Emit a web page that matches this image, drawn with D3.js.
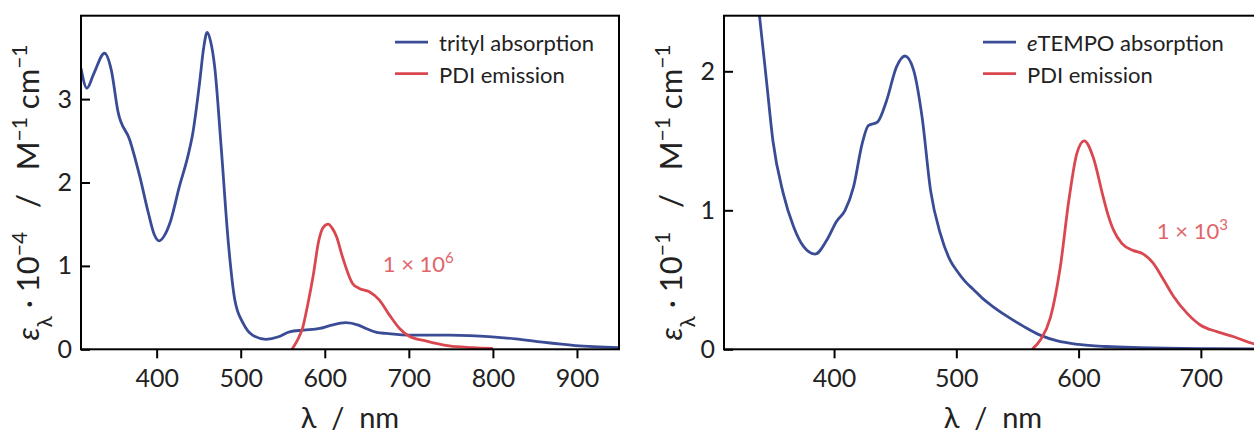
<!DOCTYPE html>
<html>
<head>
<meta charset="utf-8">
<script src="https://cdn.jsdelivr.net/npm/d3@7"></script>
<style>
  body { margin: 0; background: #fff; }
  svg { font-family: Lato, "DejaVu Sans", sans-serif; }
</style>
</head>
<body>
<div id="chart"></div>
<script>
// trityl absorption (left panel), eps / 1e4
var trityWl  = [310, 317, 325, 338, 346, 354, 368, 380, 390, 397, 403, 409, 416, 427, 437, 443, 451, 456, 460, 464, 469, 477, 485, 493, 503, 514, 530, 545, 558, 575, 594, 605, 625, 640, 649, 663, 673, 700, 748, 799, 827, 859, 898, 950];
var trityAbs = [3.37, 3.13, 3.30, 3.55, 3.35, 2.85, 2.51, 2.07, 1.64, 1.38, 1.30, 1.36, 1.52, 1.95, 2.31, 2.59, 3.19, 3.62, 3.80, 3.70, 3.39, 2.39, 1.31, 0.59, 0.31, 0.17, 0.12, 0.15, 0.21, 0.23, 0.25, 0.28, 0.32, 0.29, 0.25, 0.20, 0.19, 0.17, 0.17, 0.15, 0.125, 0.085, 0.045, 0.02];
// PDI emission, scaled by 1e6 (left panel)
var pdiWlA = [561, 567, 574, 580, 586, 593, 598, 604, 609, 614, 621, 633, 641, 653, 665, 677, 689, 700, 720, 748, 776, 800];
var pdiEmA = [0, 0.10, 0.27, 0.55, 0.87, 1.31, 1.46, 1.50, 1.45, 1.35, 1.11, 0.79, 0.73, 0.69, 0.59, 0.41, 0.25, 0.16, 0.10, 0.04, 0.02, 0.01];
// eTEMPO absorption (right panel), eps / 1e1
var tempoWl  = [335, 339, 345, 350, 358.5, 367, 375, 384.5, 394, 402, 409, 416, 423, 428, 435.5, 443, 451, 458, 465, 472, 479, 487, 495, 500, 507, 514, 521, 528, 541, 555, 569, 582, 600, 623, 650, 700, 750];
var tempoAbs = [2.7, 2.4, 1.91, 1.50, 1.12, 0.88, 0.74, 0.685, 0.785, 0.92, 1.0, 1.17, 1.48, 1.61, 1.635, 1.79, 2.03, 2.11, 2.01, 1.67, 1.14, 0.83, 0.64, 0.57, 0.49, 0.43, 0.37, 0.32, 0.24, 0.165, 0.10, 0.062, 0.035, 0.02, 0.012, 0.005, 0.003];
// PDI emission, scaled by 1e3 (right panel)
var pdiWlB = [562, 569, 577, 585, 592, 598.6, 604.6, 612, 620, 623, 628.6, 635.5, 645, 653, 661, 669.5, 677.7, 688.6, 699.5, 713, 727, 744, 750];
var pdiEmB = [0, 0.07, 0.23, 0.59, 1.07, 1.41, 1.50, 1.38, 1.10, 1.0, 0.857, 0.76, 0.71, 0.685, 0.62, 0.50, 0.38, 0.26, 0.175, 0.127, 0.09, 0.038, 0.03];

var xTicksA = [400, 500, 600, 700, 800, 900];
var yTicksA = [0, 1, 2, 3];
var xTicksB = [400, 500, 600, 700];
var yTicksB = [0, 1, 2];

var blue = "#3b4c96", red = "#d94850", annoRed = "#e0656a";

var width = 1254, height = 433;
var svg = d3.select("#chart").append("svg")
    .attr("width", width)
    .attr("height", height);

function panel(opts) {
    var left = opts.left, top = 15.7, w = 538, h = 333.6;
    var g = svg.append("g").attr("transform", "translate(" + left + "," + top + ")");
    var x = d3.scaleLinear().domain(opts.xDomain).range([0, w]);
    var y = d3.scaleLinear().domain(opts.yDomain).range([h, 0]);

    var clipId = "clip" + opts.id;
    g.append("clipPath").attr("id", clipId)
        .append("rect").attr("width", w).attr("height", h);

    var line = d3.line()
        .x(d => x(d[0]))
        .y(d => y(d[1]))
        .curve(d3.curveMonotoneX);

    var plot = g.append("g").attr("clip-path", "url(#" + clipId + ")");
    opts.series.forEach(function(s) {
        plot.append("path")
            .datum(d3.zip(s.wl, s.val))
            .attr("d", line)
            .attr("fill", "none")
            .attr("stroke", s.color)
            .attr("stroke-width", 2.8)
            .attr("stroke-linejoin", "round");
    });

    // x axis, ticks outward
    var xAxis = g.append("g").attr("transform", "translate(0," + h + ")")
        .call(d3.axisBottom(x).tickValues(opts.xTicks).tickFormat(d3.format("d"))
            .tickSize(9).tickPadding(11));
    // y axis, ticks inward
    var yAxis = g.append("g")
        .call(d3.axisLeft(y).tickValues(opts.yTicks).tickFormat(d3.format("d"))
            .tickSize(-9).tickPadding(9));
    [xAxis, yAxis].forEach(function(a) {
        a.select(".domain").remove();
        a.selectAll(".tick line").attr("stroke", "#000").attr("stroke-width", 2);
        a.selectAll(".tick text").attr("fill", "#222").style("font-size", "25px")
            .style("font-family", "Lato, 'DejaVu Sans', sans-serif");
    });

    // frame
    g.append("rect").attr("width", w).attr("height", h)
        .attr("fill", "none").attr("stroke", "#000").attr("stroke-width", 2);

    // legend
    opts.series.forEach(function(s, i) {
        var ly = 26.5 + i * 31.5;
        g.append("line")
            .attr("x1", opts.legendX).attr("x2", opts.legendX + 33)
            .attr("y1", ly).attr("y2", ly)
            .attr("stroke", s.color).attr("stroke-width", 2.8);
        var t = g.append("text")
            .attr("x", opts.legendX + 44).attr("y", ly + 9)
            .attr("fill", "#222").style("font-size", "22px");
        s.label.forEach(function(p) {
            t.append("tspan").attr("font-style", p[1] ? "italic" : null).text(p[0]);
        });
    });

    // scale annotation
    var a = g.append("text")
        .attr("x", x(opts.anno[0])).attr("y", y(opts.anno[1]))
        .attr("fill", annoRed).style("font-size", "22px");
    a.append("tspan").text("1 × 10");
    a.append("tspan").attr("baseline-shift", "super").style("font-size", "15px").text(opts.anno[2]);

    // axis labels
    g.append("text")
        .attr("x", w / 2).attr("y", h + 79)
        .attr("text-anchor", "middle").attr("fill", "#222")
        .style("font-size", "29px")
        .attr("xml:space", "preserve")
        .text("λ  /  nm");

    var yl = g.append("text")
        .attr("transform", "translate(-42," + (h / 2 + 10) + ") rotate(-90)")
        .attr("text-anchor", "middle").attr("fill", "#222")
        .attr("xml:space", "preserve")
        .style("font-size", "31px");
    yl.append("tspan").attr("font-style", "italic").text("ε");
    yl.append("tspan").attr("baseline-shift", "sub").style("font-size", "21px").text("λ");
    yl.append("tspan").text(" · 10");
    yl.append("tspan").attr("baseline-shift", "super").style("font-size", "21px").text(opts.exp);
    yl.append("tspan").text("   /   M");
    yl.append("tspan").attr("baseline-shift", "super").style("font-size", "21px").text("−1");
    yl.append("tspan").text(" cm");
    yl.append("tspan").attr("baseline-shift", "super").style("font-size", "21px").text("−1");
}

panel({
    id: "A", left: 81, xDomain: [310, 950], yDomain: [0, 4.0],
    xTicks: xTicksA, yTicks: yTicksA, exp: "−4",
    legendX: 314,
    anno: [669, 0.93, "6"],
    series: [
        { wl: trityWl, val: trityAbs, color: blue, label: [["trityl absorption", false]] },
        { wl: pdiWlA, val: pdiEmA, color: red, label: [["PDI emission", false]] }
    ]
});

panel({
    id: "B", left: 724, xDomain: [310, 750], yDomain: [0, 2.4],
    xTicks: xTicksB, yTicks: yTicksB, exp: "−1",
    legendX: 259,
    anno: [664, 0.79, "3"],
    series: [
        { wl: tempoWl, val: tempoAbs, color: blue, label: [["e", true], ["TEMPO absorption", false]] },
        { wl: pdiWlB, val: pdiEmB, color: red, label: [["PDI emission", false]] }
    ]
});
</script>
</body>
</html>
